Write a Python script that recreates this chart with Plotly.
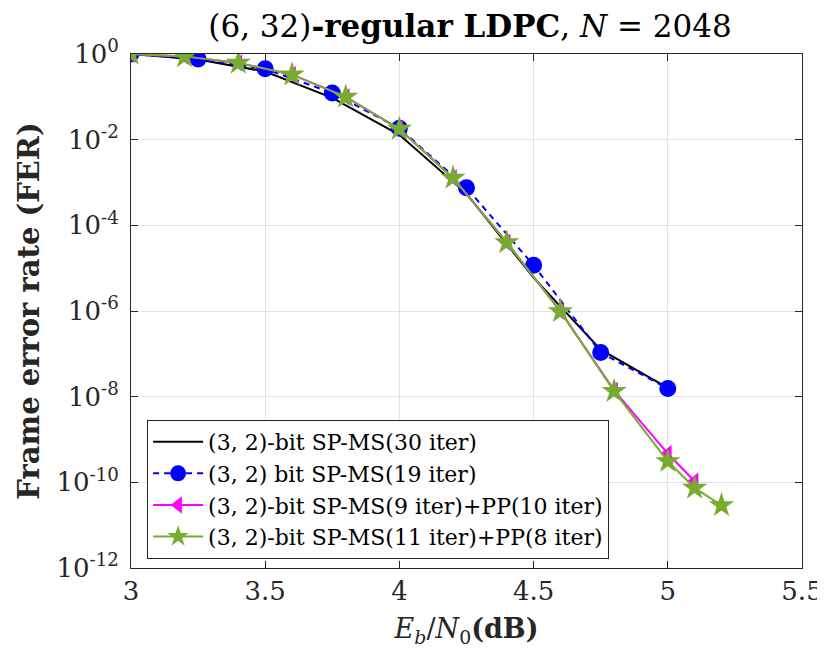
import plotly.graph_objects as go

# Data
x_black = [3.0, 3.25, 3.5, 3.75, 4.0, 4.25, 4.5, 4.75, 5.0]
fer_black = [1.0, 0.74, 0.39, 0.095, 0.013, 5.5e-4, 6.0e-6, 1.25e-7, 1.6e-8]

x_blue = [3.0, 3.25, 3.5, 3.75, 4.0, 4.25, 4.5, 4.75, 5.0]
fer_blue = [1.0, 0.76, 0.45, 0.123, 0.0184, 7.5e-4, 1.17e-5, 1.07e-7, 1.55e-8]

x_mag = [3.0, 3.2, 3.4, 3.6, 3.8, 4.0, 4.2, 4.4, 4.6, 4.8, 5.0, 5.1]
fer_mag = [1.0, 0.88, 0.62, 0.33, 0.10, 0.0178, 1.28e-3, 4.0e-5, 9.8e-7, 1.4e-8, 4.7e-10, 1.06e-10]

x_green = [3.0, 3.2, 3.4, 3.6, 3.8, 4.0, 4.2, 4.4, 4.6, 4.8, 5.0, 5.1, 5.2]
fer_green = [1.0, 0.88, 0.62, 0.33, 0.10, 0.0178, 1.28e-3, 4.0e-5, 9.8e-7, 1.34e-8, 3.1e-10, 7.4e-11, 2.9e-11]

names = [
    "(3, 2)-bit SP-MS(30 iter)",
    "(3, 2) bit SP-MS(19 iter)",
    "(3, 2)-bit SP-MS(9 iter)+PP(10 iter)",
    "(3, 2)-bit SP-MS(11 iter)+PP(8 iter)",
]

ytick_vals = [1e0, 1e-2, 1e-4, 1e-6, 1e-8, 1e-10, 1e-12]
ytick_text = ["10<sup>0</sup>", "10<sup>-2</sup>", "10<sup>-4</sup>", "10<sup>-6</sup>",
              "10<sup>-8</sup>", "10<sup>-10</sup>", "10<sup>-12</sup>"]
xtick_vals = [3, 3.5, 4, 4.5, 5, 5.5]
xtick_text = ["3", "3.5", "4", "4.5", "5", "5.5"]

FONT = "DejaVu Serif"

# the page body adds an 8px margin; figure is sized so the page needs no scrollbar
W, H = 817, 640

fig = go.Figure()
fig.add_trace(go.Scatter(x=x_black, y=fer_black, mode="lines", name=names[0],
                         line=dict(color="black", width=2)))
fig.add_trace(go.Scatter(x=x_blue, y=fer_blue, mode="lines+markers", name=names[1],
                         line=dict(color="#0000ff", width=2, dash="6px,5px"),
                         marker=dict(symbol="circle", size=17, color="#0000ff")))
fig.add_trace(go.Scatter(x=x_mag, y=fer_mag, mode="lines+markers", name=names[2],
                         line=dict(color="#ff00ff", width=2),
                         marker=dict(symbol="triangle-left", size=15, color="#ff00ff")))
fig.add_trace(go.Scatter(x=x_green, y=fer_green, mode="lines+markers", name=names[3],
                         line=dict(color="#77ac30", width=2),
                         marker=dict(symbol="star", size=19, color="#77ac30")))

axis_common = dict(showline=True, linecolor="#262626", linewidth=1, mirror="ticks",
                   ticks="inside", ticklen=7, tickcolor="#262626",
                   showgrid=True, gridcolor="#e3e3e3", gridwidth=1, zeroline=False,
                   automargin=False, ticklabeloverflow="allow",
                   tickfont=dict(family=FONT, size=26, color="#262626"))

fig.update_xaxes(range=[3, 5.5], tickvals=xtick_vals, ticktext=xtick_text,
                 title=dict(text="<i>E<sub>b</sub></i>/<i>N</i><sub>0</sub><b>(dB)</b>",
                            font=dict(family=FONT, size=27, color="#262626"), standoff=14),
                 **axis_common)
fig.update_yaxes(type="log", range=[-12, 0], tickvals=ytick_vals, ticktext=ytick_text,
                 ticklabelstandoff=6,
                 title=dict(text="<b>Frame error rate (FER)</b>",
                            font=dict(family=FONT, size=29, color="#262626"), standoff=8),
                 **axis_common)

fig.update_layout(
    width=W, height=H,
    margin=dict(l=123, r=23, t=46, b=80),
    plot_bgcolor="white", paper_bgcolor="white",
    title=dict(text="(6, 32)<b>-regular LDPC</b>, <i>N</i> = 2048",
               font=dict(family=FONT, size=31, color="black"),
               x=(462 / W), xanchor="center", y=1 - 18 / H, yanchor="middle",
               xref="container", yref="container"),
    legend=dict(x=0.024, y=0.288, xanchor="left", yanchor="top",
                bgcolor="white", bordercolor="#262626", borderwidth=1,
                font=dict(family=FONT, size=22, color="black"),
                tracegroupgap=0, itemwidth=50),
    showlegend=True,
)

fig.write_html("out.html")
